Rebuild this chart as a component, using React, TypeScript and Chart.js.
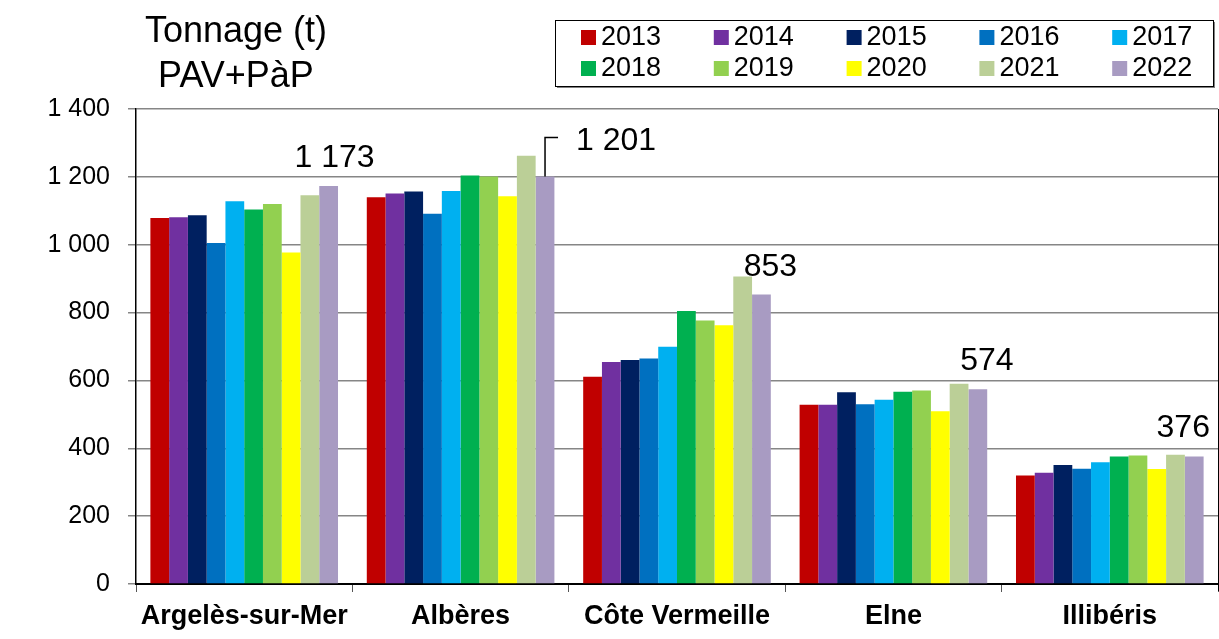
import React, { useEffect, useRef } from "react";
import { Chart, registerables } from "chart.js";

Chart.register(...registerables);

const categories = ["Argelès-sur-Mer", "Albères", "Côte Vermeille", "Elne", "Illibéris"];
const years = ["2013", "2014", "2015", "2016", "2017", "2018", "2019", "2020", "2021", "2022"];
const colors = ["#C00000", "#7030A0", "#002060", "#0070C0", "#00B0F0", "#00B050", "#92D050", "#FFFF00", "#BBCF97", "#A89BC2"];

const v2013 = [1079, 1140, 611, 528, 320];
const v2014 = [1081, 1151, 654, 528, 328];
const v2015 = [1087, 1157, 660, 565, 351];
const v2016 = [1005, 1091, 665, 530, 340];
const v2017 = [1128, 1158, 699, 543, 359];
const v2018 = [1104, 1204, 805, 567, 376];
const v2019 = [1120, 1201, 777, 570, 379];
const v2020 = [977, 1143, 763, 509, 339];
const v2021 = [1146, 1262, 906, 590, 381];
const v2022 = [1173, 1201, 853, 574, 376];
const series = [v2013, v2014, v2015, v2016, v2017, v2018, v2019, v2020, v2021, v2022];

const yTicks = [0, 200, 400, 600, 800, 1000, 1200, 1400];

// label placement (styling only)
const labelDx = [6, 31, 9, 9, -11];
const labelDy = [-19, -27, -19, -19, -19];

const FONT = '"Liberation Sans", Arial, sans-serif';
const fmt = (v: number) => String(v).replace(/\B(?=(\d{3})+(?!\d))/g, " ");

const overlayPlugin = {
  id: "overlay",
  afterDraw(chart: any) {
    const ctx = chart.ctx as CanvasRenderingContext2D;
    const area = chart.chartArea;
    ctx.save();
    // title
    ctx.fillStyle = "#000";
    ctx.font = `36px ${FONT}`;
    ctx.textAlign = "center";
    ctx.textBaseline = "alphabetic";
    ctx.fillText("Tonnage (t)", 236, 42);
    ctx.fillText("PAV+PàP", 236, 87);

    // legend
    const bx = 555, by = 20, bw = 658, bh = 66;
    ctx.fillStyle = "#fff";
    ctx.fillRect(bx, by, bw, bh);
    ctx.strokeStyle = "#808080";
    ctx.lineWidth = 2;
    ctx.beginPath();
    ctx.moveTo(bx + 2, by + bh + 1);
    ctx.lineTo(bx + bw + 1, by + bh + 1);
    ctx.lineTo(bx + bw + 1, by + 2);
    ctx.stroke();
    ctx.strokeStyle = "#000";
    ctx.lineWidth = 1;
    ctx.strokeRect(bx + 0.5, by + 0.5, bw, bh);
    ctx.font = `27px ${FONT}`;
    ctx.textAlign = "left";
    ctx.textBaseline = "middle";
    years.forEach((y, i) => {
      const col = i % 5;
      const row = Math.floor(i / 5);
      const sx = 581 + col * 132.8;
      const cy = row === 0 ? 37 : 68;
      ctx.fillStyle = colors[i];
      ctx.fillRect(sx, cy - 7, 15, 15);
      ctx.fillStyle = "#000";
      ctx.fillText(y, sx + 20, cy + 1);
    });

    // data labels for last series
    const meta = chart.getDatasetMeta(series.length - 1);
    ctx.font = `32px ${FONT}`;
    ctx.textBaseline = "alphabetic";
    ctx.fillStyle = "#000";
    meta.data.forEach((bar: any, i: number) => {
      const text = fmt(v2022[i]);
      if (i === 1) {
        ctx.strokeStyle = "#000";
        ctx.lineWidth = 1.5;
        ctx.beginPath();
        ctx.moveTo(bar.x, bar.y);
        ctx.lineTo(bar.x, bar.y - 39);
        ctx.lineTo(bar.x + 13, bar.y - 39);
        ctx.stroke();
        ctx.textAlign = "left";
        ctx.fillText(text, bar.x + labelDx[i], bar.y + labelDy[i]);
      } else {
        ctx.textAlign = "center";
        ctx.fillText(text, bar.x + labelDx[i], bar.y + labelDy[i]);
      }
    });

    // right frame line
    ctx.strokeStyle = "#000";
    ctx.lineWidth = 1;
    ctx.beginPath();
    ctx.moveTo(area.right + 0.5, area.top);
    ctx.lineTo(area.right + 0.5, area.bottom + 7);
    ctx.stroke();
    ctx.restore();
  },
};

export default function App() {
  const ref = useRef<HTMLCanvasElement | null>(null);
  useEffect(() => {
    if (!ref.current) return;
    const chart = new Chart(ref.current, {
      type: "bar",
      data: {
        labels: categories,
        datasets: series.map((d, i) => ({
          label: years[i],
          data: d,
          backgroundColor: colors[i],
          borderWidth: 0,
          categoryPercentage: 0.867,
          barPercentage: 1,
        })),
      },
      options: {
        animation: false,
        responsive: false,
        devicePixelRatio: 1,
        layout: { padding: { top: 109, right: 1, left: 0, bottom: 0 } },
        plugins: { legend: { display: false }, tooltip: { enabled: false }, title: { display: false } },
        scales: {
          x: {
            grid: {
              display: true,
              drawOnChartArea: false,
              drawTicks: true,
              tickLength: 8,
              color: "#555",
              offset: true,
            },
            border: { display: true, color: "#000", width: 2 },
            ticks: {
              font: { family: FONT, size: 27, weight: "bold" },
              color: "#000",
              padding: 8,
              maxRotation: 0,
              autoSkip: false,
            },
            afterFit(scale: any) {
              scale.height = 55;
            },
          },
          y: {
            min: 0,
            max: 1400,
            afterBuildTicks(scale: any) {
              scale.ticks = yTicks.map((v) => ({ value: v }));
            },
            grid: { color: "#868686", lineWidth: 1.5, tickLength: 8, drawTicks: true },
            border: { display: true, color: "#000", width: 1.5 },
            ticks: {
              font: { family: FONT, size: 25 },
              color: "#000",
              padding: 18,
              callback: (v: any) => fmt(Number(v)),
            },
            afterFit(scale: any) {
              scale.width = 136;
            },
          },
        },
      },
      plugins: [overlayPlugin],
    });
    return () => chart.destroy();
  }, []);
  return (
    <div style={{ position: "fixed", left: 0, top: 0, width: 1219, height: 639, background: "#fff" }}>
      <canvas ref={ref} width={1219} height={639} />
    </div>
  );
}
